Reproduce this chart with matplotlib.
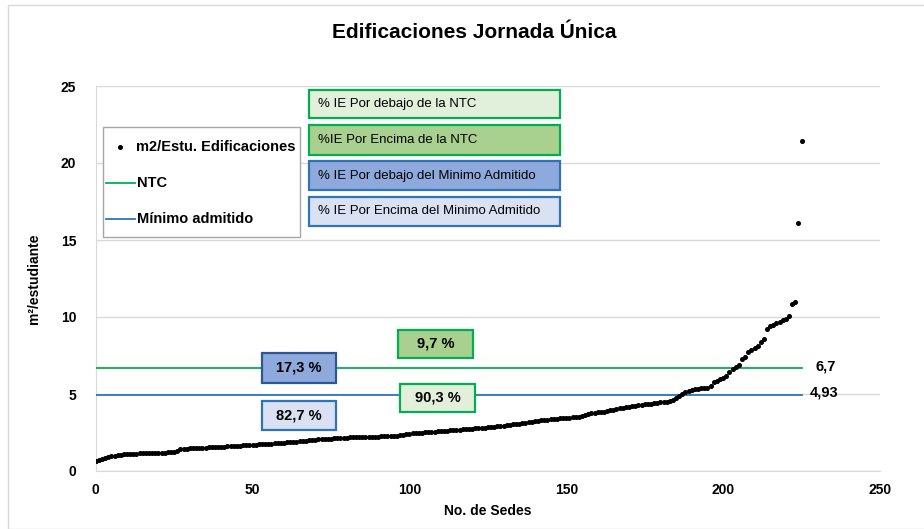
import numpy as np
import matplotlib.pyplot as plt
from matplotlib.patches import Rectangle
from matplotlib.lines import Line2D

plt.rcParams['font.family'] = ['Liberation Sans', 'DejaVu Sans']

# m2 per student for each site, sorted ascending
m2_estudiante = [
    0.67, 0.72, 0.78, 0.84, 0.90, 0.95, 1.00, 1.04, 1.07, 1.09,
    1.10, 1.11, 1.12, 1.13, 1.14, 1.15, 1.16, 1.17, 1.18, 1.18,
    1.19, 1.20, 1.20, 1.21, 1.22, 1.23, 1.30, 1.43, 1.45, 1.46,
    1.47, 1.48, 1.49, 1.50, 1.51, 1.52, 1.53, 1.54, 1.55, 1.56,
    1.57, 1.58, 1.60, 1.61, 1.62, 1.64, 1.65, 1.66, 1.67, 1.69,
    1.70, 1.71, 1.73, 1.74, 1.75, 1.77, 1.78, 1.80, 1.81, 1.83,
    1.84, 1.86, 1.88, 1.89, 1.91, 1.93, 1.95, 1.97, 1.99, 2.01,
    2.03, 2.05, 2.06, 2.08, 2.09, 2.10, 2.12, 2.14, 2.15, 2.16,
    2.17, 2.18, 2.19, 2.19, 2.20, 2.21, 2.21, 2.22, 2.22, 2.23,
    2.24, 2.25, 2.26, 2.27, 2.28, 2.29, 2.30, 2.33, 2.36, 2.39,
    2.42, 2.45, 2.47, 2.48, 2.50, 2.51, 2.53, 2.54, 2.56, 2.57,
    2.59, 2.60, 2.62, 2.63, 2.65, 2.66, 2.68, 2.70, 2.72, 2.74,
    2.75, 2.77, 2.78, 2.80, 2.82, 2.84, 2.86, 2.88, 2.90, 2.92,
    2.95, 2.97, 3.00, 3.02, 3.05, 3.08, 3.11, 3.14, 3.17, 3.20,
    3.23, 3.26, 3.29, 3.31, 3.33, 3.35, 3.37, 3.39, 3.41, 3.43,
    3.45, 3.47, 3.49, 3.51, 3.53, 3.58, 3.64, 3.70, 3.74, 3.77,
    3.80, 3.83, 3.86, 3.90, 3.94, 3.98, 4.02, 4.06, 4.10, 4.14,
    4.17, 4.20, 4.23, 4.26, 4.29, 4.32, 4.35, 4.38, 4.40, 4.43,
    4.45, 4.48, 4.50, 4.53, 4.60, 4.72, 4.86,
    5.00, 5.12, 5.22, 5.28, 5.32, 5.35, 5.37, 5.39, 5.41, 5.55,
    5.75, 5.85, 5.95, 6.05, 6.20, 6.40, 6.60,
    6.75, 6.90, 7.30, 7.40, 7.70, 7.85, 8.00, 8.10, 8.40, 8.60,
    9.20, 9.40, 9.50, 9.60, 9.70, 9.80, 9.90, 10.05,
    10.85, 10.95, 16.10, 21.40,
]
sedes = np.arange(len(m2_estudiante))

ntc = 6.7
minimo = 4.93
ref_end = 225

legend_labels = ['m2/Estu. Edificaciones', 'NTC', 'Mínimo admitido']
info_labels = ['% IE Por debajo de la NTC', '%IE Por Encima de la NTC',
               '% IE Por debajo del Minimo Admitido', '% IE Por Encima del Minimo Admitido']
pct_labels = ['17,3 %', '82,7 %', '9,7 %', '90,3 %']

green = '#00B050'
blue = '#2E75B6'

W, H = 924, 529
fig = plt.figure(figsize=(W / 100, H / 100), dpi=100)
ax = fig.add_axes([95.7 / W, 1 - 471 / H, (880 - 95.7) / W, (471 - 86) / H])

# outer chart border
fig.patches.append(Rectangle((8 / W, 0), 1, 1 - 5 / H, transform=fig.transFigure,
                             fill=False, edgecolor='#D9D9D9', lw=1))

ax.plot(sedes, m2_estudiante, 'o', color='black', markersize=2.6, zorder=4)
ax.plot([0, ref_end], [ntc, ntc], color=green, lw=1.3, zorder=3)
ax.plot([0, ref_end], [minimo, minimo], color=blue, lw=1.3, zorder=3)

ax.text(229.3, ntc + 0.08, f'{ntc}'.replace('.', ','), fontsize=10.5, fontweight='bold',
        va='center', ha='left')
ax.text(227.7, minimo + 0.15, f'{minimo}'.replace('.', ','), fontsize=10.5, fontweight='bold',
        va='center', ha='left')

ax.set_xlim(0, 250)
ax.set_ylim(0, 25)
ax.set_xticks(range(0, 251, 50))
ax.set_yticks(range(0, 26, 5))
ax.yaxis.grid(True, color='#D9D9D9', lw=1)
ax.set_axisbelow(True)
for s in ['top', 'right']:
    ax.spines[s].set_visible(False)
for s in ['left', 'bottom']:
    ax.spines[s].set_color('#D9D9D9')
ax.tick_params(length=0, labelsize=10, pad=9)
for lab in ax.get_xticklabels() + ax.get_yticklabels():
    lab.set_fontweight('bold')
ax.tick_params(axis='y', pad=14)

ax.set_xlabel('No. de Sedes', fontsize=10, fontweight='bold', labelpad=5)
ax.set_ylabel('m²/estudiante', fontsize=10, fontweight='bold', labelpad=14)

fig.text(474 / W, 1 - 33 / H, 'Edificaciones Jornada Única', fontsize=15,
         fontweight='bold', ha='center', va='center')


def px(x, y):
    return x / W, 1 - y / H


def box(x0, y0, x1, y1, face, edge, text, bold=False, size=9.5, left=False):
    fig.patches.append(Rectangle((x0 / W, 1 - y1 / H), (x1 - x0) / W, (y1 - y0) / H,
                                 transform=fig.transFigure, facecolor=face,
                                 edgecolor=edge, lw=1.6, zorder=5))
    tx = x0 + 9 if left else (x0 + x1) / 2
    fig.text(*px(tx, (y0 + y1) / 2), text, fontsize=size,
             ha='left' if left else 'center', va='center', zorder=6,
             fontweight='bold' if bold else 'normal')


box(309, 90, 560, 118, '#E2EFDA', green, info_labels[0], left=True)
box(309, 125, 560, 155, '#A9D08E', green, info_labels[1], left=True)
box(309, 161, 560, 190, '#8EA9DB', '#2F75B5', info_labels[2], left=True)
box(309, 197, 560, 226, '#D9E1F2', '#2F75B5', info_labels[3], left=True)

box(262, 353, 336, 383, '#8EA9DB', '#2F5597', pct_labels[0], bold=True, size=10.5)
box(262, 401, 336, 430, '#D9E1F2', '#2F75B5', pct_labels[1], bold=True, size=10.5)
box(398, 330, 473, 358, '#A9D08E', green, pct_labels[2], bold=True, size=10.5)
box(400, 384, 475, 412, '#E2EFDA', green, pct_labels[3], bold=True, size=10.5)

# legend drawn by hand to match the original frame
fig.patches.append(Rectangle(px(103, 237), 197 / W, 110 / H, transform=fig.transFigure,
                             facecolor='white', edgecolor='#A6A6A6', lw=1, zorder=5))
fig.lines.append(Line2D([px(120, 147)[0]], [px(120, 147)[1]], ls='none', marker='o',
                        color='black', markersize=2.6, transform=fig.transFigure, zorder=6))
for yy, col in [(183, green), (219, blue)]:
    fig.lines.append(Line2D([px(106, yy)[0], px(135, yy)[0]], [px(106, yy)[1]] * 2,
                            color=col, lw=1.3, transform=fig.transFigure, zorder=6))
for (xx, yy), lab in zip([(136, 147), (137, 183), (137, 219)], legend_labels):
    fig.text(*px(xx, yy), lab, fontsize=10.5, fontweight='bold', ha='left',
             va='center', zorder=6)

fig.savefig('out.png', dpi=100)
